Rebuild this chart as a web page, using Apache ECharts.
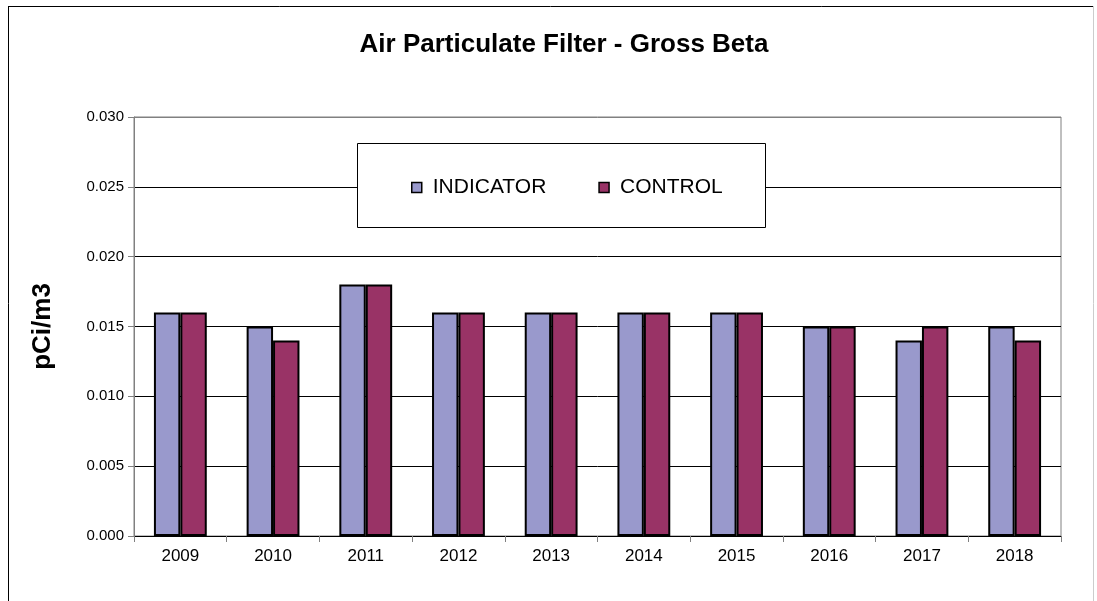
<!DOCTYPE html>
<html>
<head>
<meta charset="UTF-8">
<script src="https://cdn.jsdelivr.net/npm/echarts@6/dist/echarts.min.js"></script>
<style>
html, body { margin: 0; padding: 0; background: #fff; }
#main { width: 1097px; height: 601px; }
</style>
</head>
<body>
<div id="main"></div>
<script>
// data
var years = ['2009', '2010', '2011', '2012', '2013', '2014', '2015', '2016', '2017', '2018'];
var indicator = [0.016, 0.015, 0.018, 0.016, 0.016, 0.016, 0.016, 0.015, 0.014, 0.015];
var control = [0.016, 0.014, 0.018, 0.016, 0.016, 0.016, 0.016, 0.015, 0.015, 0.014];

var font = 'Liberation Sans, Arial, sans-serif';
var chart = echarts.init(document.getElementById('main'));

var option = {
  backgroundColor: '#fff',
  animation: false,
  title: {
    text: 'Air Particulate Filter - Gross Beta',
    left: 564, top: 32, textAlign: 'center', padding: 0,
    textStyle: { fontFamily: font, fontSize: 26, fontWeight: 'bold', color: '#000' }
  },
  graphic: [
    // chart frame
    { type: 'line', shape: { x1: 8, y1: 6.5, x2: 1093, y2: 6.5 }, style: { stroke: '#000', lineWidth: 1 }, z: 1 },
    { type: 'line', shape: { x1: 8.5, y1: 6, x2: 8.5, y2: 601 }, style: { stroke: '#000', lineWidth: 1 }, z: 1 },
    { type: 'line', shape: { x1: 1093.5, y1: 6, x2: 1093.5, y2: 601 }, style: { stroke: '#ccc', lineWidth: 1 }, z: 1 },
    // legend box
    { type: 'rect', shape: { x: 357.5, y: 143.5, width: 408, height: 84 },
      style: { fill: '#fff', stroke: '#000', lineWidth: 1 }, z: 5 }
  ],
  legend: {
    data: ['INDICATOR', 'CONTROL'],
    left: 411, top: 177, z: 10, padding: 0,
    itemWidth: 10, itemHeight: 10, itemGap: 52,
    icon: 'rect',
    itemStyle: { borderColor: '#000', borderWidth: 1.5 },
    textStyle: { fontFamily: font, fontSize: 21, color: '#000', padding: [0, 0, 0, 6] }
  },
  grid: {
    left: 134, right: 36, top: 117, bottom: 65,
    show: true, borderColor: '#808080', borderWidth: 1, backgroundColor: '#fff'
  },
  xAxis: {
    type: 'category',
    data: years,
    axisLine: { lineStyle: { color: '#000', width: 1 } },
    axisTick: { show: true, length: 6, lineStyle: { color: '#808080' } },
    axisLabel: { fontFamily: font, fontSize: 17, color: '#000', margin: 12 }
  },
  yAxis: {
    type: 'value',
    min: 0, max: 0.03, interval: 0.005,
    name: 'pCi/m3',
    nameLocation: 'middle',
    nameGap: 78,
    nameTextStyle: { fontFamily: font, fontSize: 26, fontWeight: 'bold', color: '#000' },
    axisLine: { show: true, lineStyle: { color: '#808080' } },
    axisTick: { show: true, length: 6, lineStyle: { color: '#808080' } },
    axisLabel: {
      fontFamily: font, fontSize: 15, color: '#000', margin: 10,
      formatter: function (v) { return v.toFixed(3); }
    },
    splitLine: { lineStyle: { color: ['#000', '#000', '#000', '#000', '#000', '#000', '#808080'], width: 1 } }
  },
  series: [
    {
      name: 'INDICATOR', type: 'bar', data: indicator,
      barGap: '0%', barCategoryGap: '43%',
      itemStyle: { color: '#9999cc', borderColor: '#000', borderWidth: 2 }
    },
    {
      name: 'CONTROL', type: 'bar', data: control,
      itemStyle: { color: '#993366', borderColor: '#000', borderWidth: 2 }
    }
  ]
};

chart.setOption(option);
</script>
</body>
</html>
